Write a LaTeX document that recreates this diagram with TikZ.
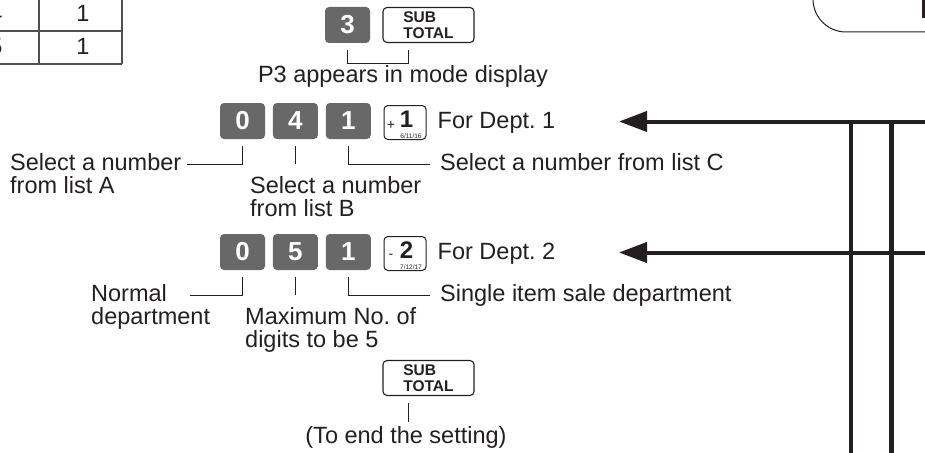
\documentclass[tikz,border=0pt]{standalone}
\usepackage{fontspec}
\setmainfont{Liberation Sans}
\usetikzlibrary{positioning,arrows.meta}
\definecolor{keygray}{RGB}{104,104,104}
\definecolor{ink}{RGB}{35,31,32}
\definecolor{rulegray}{RGB}{80,80,80}
\frenchspacing
\tikzset{
  numkey/.style={fill=keygray, rounded corners=4pt, minimum width=45pt, minimum height=36pt, inner sep=0pt, text=white, font=\fontsize{26}{26}\selectfont\bfseries},
  subkey/.style={draw=ink, line width=1.1pt, rounded corners=4pt, minimum width=91pt, minimum height=35pt, inner sep=0pt, align=left, font=\fontsize{15.5}{15.5}\selectfont\bfseries},
  deptkey/.style={draw=ink, line width=1pt, rounded corners=4pt, minimum width=42pt, minimum height=34pt, inner sep=0pt},
  keysign/.style={inner sep=0pt, font=\fontsize{14}{14}\selectfont},
  keydigit/.style={inner sep=0pt, font=\fontsize{24}{24}\selectfont\bfseries},
  keytiny/.style={inner sep=0pt, font=\fontsize{6.5}{6.5}\selectfont},
  lab/.style={inner sep=0pt, text=ink, font=\fontsize{23.5}{23.5}\selectfont, text height=17pt, text depth=4.8pt},
  leader/.style={draw=ink, line width=1pt},
  bus/.style={draw=ink, line width=4.5pt},
  feed/.style={draw=ink, line width=4pt, -{Triangle[length=28pt,width=20pt]}},
}
\begin{document}
\begin{tikzpicture}[x=1pt,y=-1pt,color=ink]
\useasboundingbox (0,0) rectangle (925,452);
\clip (0,0) rectangle (925,452);
% ---- corner of the table ----
\draw[rulegray,line width=1.3pt] (39,-5) -- (39,64) (122,-5) -- (122,64) (-5,31) -- (122,31) (-5,64) -- (122,64);
\node[lab] (row4) at (-4,15.5) {4};
\node[lab] (row4val) at (83,15.5) {1};
\node[lab] (row5) at (-4,48) {5};
\node[lab] (row5val) at (83,48) {1};
% ---- box at top right ----
\draw[line width=1pt, rounded corners=33pt] (813,-60) rectangle (990,32);
\fill (921.5,-2) rectangle (926,18);
% ---- mode selection ----
\node[numkey] (k3) at (347.5,25) {3};
\node[subkey] (ksub) at (428.5,25) {SUB\\TOTAL};
\draw[leader] ([yshift=-7pt]k3.south) -- ++(0,13) -| ([xshift=-20pt,yshift=-7pt]ksub.south);
\node[lab] (mode) at (403,76) {P3 appears in mode display};
% ---- dept 1 ----
\node[numkey] (k0a) at (242.5,121) {0};
\node[numkey, right=7.5pt of k0a] (k4) {4};
\node[numkey, right=7.5pt of k4] (k1a) {1};
\node[deptkey] (kplus) at (405,122.5) {};
\node[keysign] (kplus-s) at ([xshift=-14pt,yshift=-3pt]kplus.center) {+};
\node[keydigit] (kplus-d) at ([xshift=1.5pt,yshift=3.5pt]kplus.center) {1};
\node[keytiny] (kplus-t) at ([xshift=6pt,yshift=-13.5pt]kplus.center) {6/11/16};
\node[lab, right=11pt of kplus] (dept1) {For Dept. 1};
\node[lab, anchor=west] (selA) at (10,164) {Select a number};
\node[lab, below=1.5pt of selA.south west, anchor=north west] (listA) {from list A};
\node[lab, anchor=north west] (selB) at (250,176) {Select a number};
\node[lab, below=1.5pt of selB.south west, anchor=north west] (listB) {from list B};
\node[lab, anchor=west] (selC) at (440,164) {Select a number from list C};
\draw[leader] ([yshift=-7pt]k0a.south) |- ([xshift=5pt]selA.east);
\draw[leader] ([yshift=-7pt]k4.south) -- ([yshift=12pt]k4.south |- selB.north);
\draw[leader] ([yshift=-7pt]k1a.south) |- ([xshift=-10pt]selC.west);
% ---- dept 2 ----
\node[numkey] (k0b) at (242.5,252) {0};
\node[numkey, right=7.5pt of k0b] (k5) {5};
\node[numkey, right=7.5pt of k5] (k1b) {1};
\node[deptkey] (kminus) at (405,253.5) {};
\node[keysign] (kminus-s) at ([xshift=-14pt,yshift=-3pt]kminus.center) {-};
\node[keydigit] (kminus-d) at ([xshift=1.5pt,yshift=3.5pt]kminus.center) {2};
\node[keytiny] (kminus-t) at ([xshift=6pt,yshift=-13.5pt]kminus.center) {7/12/17};
\node[lab, right=11pt of kminus] (dept2) {For Dept. 2};
\node[lab, anchor=west] (norm) at (91,295) {Normal};
\node[lab, below=1.5pt of norm.south west, anchor=north west] (normdep) {department};
\node[lab, anchor=north west] (maxd) at (245,307) {Maximum No. of};
\node[lab, below=1.5pt of maxd.south west, anchor=north west] (maxd2) {digits to be 5};
\node[lab, anchor=west] (single) at (440,295) {Single item sale department};
\draw[leader] ([yshift=-7pt]k0b.south) |- ([xshift=23pt]norm.east);
\draw[leader] ([yshift=-7pt]k5.south) -- ([yshift=12pt]k5.south |- maxd.north);
\draw[leader] ([yshift=-7pt]k1b.south) |- ([xshift=-10pt]single.west);
% ---- end ----
\node[subkey] (ksubb) at (428.5,378) {SUB\\TOTAL};
\node[lab] (endset) at (406,437) {(To end the setting)};
\draw[leader] ([xshift=-20pt,yshift=-7pt]ksubb.south) -- ([xshift=-20pt,yshift=4pt]ksubb.south |- endset.north);
% ---- feed lines at right ----
\coordinate (in1) at (926,121.5);
\coordinate (tip1) at (619,121.5);
\coordinate (in2) at (926,252.5);
\coordinate (tip2) at (619,252.5);
\draw[feed] (in1) -- (tip1);
\draw[feed] (in2) -- (tip2);
\coordinate (bus1a) at (851,121.5);
\coordinate (bus1b) at (851,455);
\coordinate (bus2a) at (891.5,121.5);
\coordinate (bus2b) at (891.5,455);
\draw[bus] (bus1a) -- (bus1b);
\draw[bus] (bus2a) -- (bus2b);
\end{tikzpicture}
\end{document}
